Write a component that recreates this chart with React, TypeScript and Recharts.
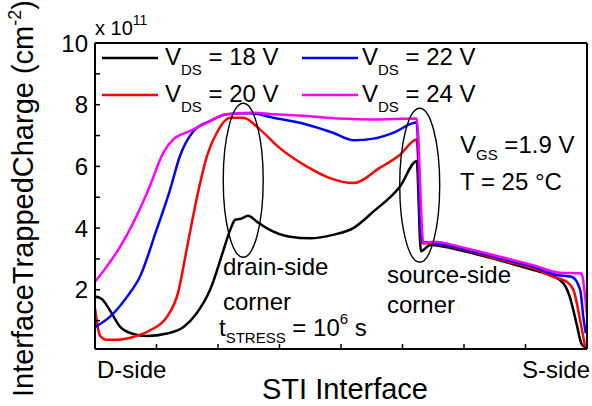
import React from 'react';
import { LineChart, Line, XAxis, YAxis, ReferenceDot } from 'recharts';

const FONT = '"Liberation Sans", Arial, Helvetica, sans-serif';

// Position along the STI interface (0 = D-side, 8 = S-side), trapped charge in 1e11 cm^-2
const black18X = [0, 0.11, 0.24, 0.41, 0.62, 0.84, 1.17, 1.44, 1.65, 1.87, 2.09, 2.2, 2.28, 2.37, 2.49, 2.63, 2.79, 3.17, 3.5, 3.87, 4.2, 4.53, 4.96, 5.23, 5.3, 5.45, 6.04, 6.59, 7.13, 7.4, 7.62, 7.72, 7.83, 7.91, 7.98];
const black18Y = [1.78, 1.7, 1.34, 0.8, 0.57, 0.5, 0.58, 0.79, 1.23, 1.99, 3.29, 3.95, 4.27, 4.3, 4.4, 4.21, 4.0, 3.72, 3.67, 3.78, 4.0, 4.54, 5.35, 6.17, 3.25, 3.45, 3.23, 2.95, 2.64, 2.48, 2.2, 1.77, 0.9, 0.25, 0.12];

const red20X = [0, 0.08, 0.19, 0.35, 0.62, 0.89, 1.17, 1.35, 1.49, 1.65, 1.82, 1.98, 2.2, 2.41, 2.68, 3.0, 3.44, 3.82, 4.2, 4.63, 4.96, 5.23, 5.31, 5.5, 6.04, 6.59, 7.12, 7.45, 7.67, 7.78, 7.89, 7.97];
const red20Y = [1.4, 0.52, 0.38, 0.38, 0.47, 0.68, 1.12, 1.9, 3.3, 4.92, 6.33, 7.09, 7.58, 7.58, 7.2, 6.6, 6.0, 5.62, 5.46, 5.95, 6.38, 6.87, 3.52, 3.5, 3.28, 2.97, 2.7, 2.42, 2.26, 1.99, 1.0, 0.14];

const blue22X = [0, 0.24, 0.52, 0.73, 1.0, 1.22, 1.38, 1.6, 1.87, 2.14, 2.52, 2.9, 3.44, 3.87, 4.2, 4.53, 4.85, 5.23, 5.31, 5.5, 6.04, 6.59, 7.12, 7.5, 7.75, 7.89, 7.94, 7.98];
const blue22Y = [0.79, 1.12, 1.77, 2.42, 3.94, 5.24, 6.33, 7.14, 7.47, 7.69, 7.72, 7.58, 7.36, 7.09, 6.85, 6.9, 7.09, 7.42, 3.56, 3.52, 3.3, 3.02, 2.75, 2.48, 2.42, 1.99, 1.12, 0.59];

const mag24X = [0, 0.19, 0.41, 0.62, 0.89, 1.11, 1.27, 1.54, 1.82, 2.14, 2.52, 2.9, 3.44, 3.98, 4.52, 5.23, 5.34, 5.5, 6.04, 6.59, 7.12, 7.56, 7.91, 7.97, 8.0];
const mag24Y = [2.26, 2.75, 3.4, 4.16, 5.35, 6.44, 6.87, 7.14, 7.42, 7.69, 7.74, 7.69, 7.63, 7.55, 7.52, 7.55, 3.51, 3.56, 3.34, 3.07, 2.8, 2.55, 2.53, 1.77, 1.2];

const seriesLabels = ['18', '20', '22', '24'];
const seriesColors = ['#000000', '#ff0000', '#0000ff', '#ff00ff'];

const xTicks = [0, 1, 2, 3, 4, 5, 6, 7, 8];
const xTopTicks = [0, 1, 2, 4, 5, 7, 8];
const yTicks = [1, 2, 3, 4, 5, 6, 7, 8, 9, 10];
const xEndLabels = ['D-side', 'S-side'];

// annotation ellipse centres (data coords)
const drainCorner = { x: 2.41, y: 5.55 };
const sourceCorner = { x: 5.28, y: 5.39 };

const zip = (xs: number[], ys: number[]) => xs.map((x, i) => ({ x, y: ys[i] }));
const seriesData = [zip(black18X, black18Y), zip(red20X, red20Y), zip(blue22X, blue22Y), zip(mag24X, mag24Y)];

const BottomTick = (props: any) => {
  const { x, y, payload } = props;
  if (payload.value === xTicks[0]) {
    return <text x={x + 2} y={y} textAnchor="start" fontSize={24} fontFamily={FONT} fill="#000">{xEndLabels[0]}</text>;
  }
  if (payload.value === xTicks[xTicks.length - 1]) {
    return <text x={x + 3} y={y} textAnchor="end" fontSize={24} fontFamily={FONT} fill="#000">{xEndLabels[1]}</text>;
  }
  return <g />;
};

const ellipseShape = (props: any) => (
  <ellipse cx={props.cx} cy={props.cy} rx={20} ry={77} fill="none" stroke="#000" strokeWidth={1.4} />
);

const legendPos = [
  { lx: 102, tx: 165, y: 58 },
  { lx: 102, tx: 165, y: 95 },
  { lx: 302, tx: 362, y: 58 },
  { lx: 302, tx: 362, y: 95 },
];

const Overlay = () => (
  <svg width={592} height={406} style={{ position: 'absolute', left: 0, top: 0, pointerEvents: 'none' }} fontFamily={FONT}>
    {/* x 10^11 */}
    <text x={95} y={35} fontSize={20} fill="#000" style={{ whiteSpace: 'pre' }}>
      x 10<tspan fontSize={14} dy={-10}>11</tspan>
    </text>
    {/* legend */}
    {seriesLabels.map((s, i) => (
      <g key={s}>
        <line x1={legendPos[i].lx} x2={legendPos[i].lx + 56} y1={legendPos[i].y} y2={legendPos[i].y} stroke={seriesColors[i]} strokeWidth={2.5} />
        <text x={legendPos[i].tx} y={legendPos[i].y + 7} fontSize={24} fill="#000" style={{ whiteSpace: 'pre' }}>
          V<tspan fontSize={15} dy={10}>DS</tspan>
          <tspan dy={-10}>{` = ${s} V`}</tspan>
        </text>
      </g>
    ))}
    {/* conditions */}
    <text x={460} y={153} fontSize={24} fill="#000" style={{ whiteSpace: 'pre' }}>
      V<tspan fontSize={15} dy={7}>GS</tspan>
      <tspan dy={-7}>{' =1.9 V'}</tspan>
    </text>
    <text x={460} y={190} fontSize={24} fill="#000">T = 25 °C</text>
    {/* drain-side annotation */}
    <text x={223} y={275} fontSize={24} fill="#000">drain-side</text>
    <text x={223} y={310} fontSize={24} fill="#000">corner</text>
    <text x={219} y={336} fontSize={24} fill="#000" style={{ whiteSpace: 'pre' }}>
      t<tspan fontSize={15} dy={7}>STRESS</tspan>
      <tspan dy={-7}>{' = 10'}</tspan>
      <tspan fontSize={15} dy={-12}>6</tspan>
      <tspan dy={12}>{' s'}</tspan>
    </text>
    {/* source-side annotation */}
    <text x={387} y={283} fontSize={24} fill="#000">source-side</text>
    <text x={387} y={313} fontSize={24} fill="#000">corner</text>
    {/* axis titles */}
    <text x={345} y={399} fontSize={29} textAnchor="middle" fill="#000">STI Interface</text>
    <text transform="rotate(-90)" x={-397} y={33} fontSize={29} fill="#000" style={{ whiteSpace: 'pre' }}>
      InterfaceTrappedCharge (cm<tspan fontSize={18} dy={-12}>-2</tspan>
      <tspan dy={12}>)</tspan>
    </text>
  </svg>
);

export default function App() {
  const axisLine = { stroke: '#000', strokeWidth: 2 };
  const tickLine = { stroke: '#000', strokeWidth: 1.5 };
  return (
    <div style={{ position: 'absolute', left: 0, top: 0, width: 592, height: 406, background: '#fff' }}>
      <LineChart width={592} height={406} margin={{ top: 33, right: 0, bottom: 0, left: 35 }}>
        <XAxis
          type="number"
          dataKey="x"
          domain={[0, 8]}
          ticks={xTicks}
          allowDataOverflow
          height={57}
          tickSize={-5}
          tickMargin={34}
          axisLine={axisLine}
          tickLine={tickLine}
          tick={<BottomTick />}
          interval={0}
        />
        <XAxis
          xAxisId="top"
          orientation="top"
          type="number"
          domain={[0, 8]}
          ticks={xTopTicks}
          allowDataOverflow
          height={10}
          tickSize={-5}
          axisLine={axisLine}
          tickLine={tickLine}
          tick={false}
          interval={0}
        />
        <YAxis
          type="number"
          domain={[0.08, 10]}
          ticks={yTicks}
          allowDataOverflow
          width={60}
          tickSize={-5}
          tickMargin={12}
          axisLine={axisLine}
          tickLine={tickLine}
          interval={0}
          tick={{ fontSize: 24, fill: '#000', fontFamily: FONT }}
          tickFormatter={(v: number) => (v % 2 === 0 ? String(v) : '')}
        />
        <YAxis
          yAxisId="right"
          orientation="right"
          type="number"
          domain={[0.08, 10]}
          ticks={yTicks}
          allowDataOverflow
          width={5}
          tickSize={-5}
          axisLine={axisLine}
          tickLine={tickLine}
          tick={false}
          interval={0}
        />
        {seriesData.map((d, i) => (
          <Line
            key={seriesLabels[i]}
            data={d}
            dataKey="y"
            type="monotone"
            stroke={seriesColors[i]}
            strokeWidth={2.5}
            dot={false}
            isAnimationActive={false}
          />
        ))}
        <ReferenceDot x={drainCorner.x} y={drainCorner.y} r={0} shape={ellipseShape} />
        <ReferenceDot x={sourceCorner.x} y={sourceCorner.y} r={0} shape={ellipseShape} />
      </LineChart>
      <Overlay />
    </div>
  );
}
